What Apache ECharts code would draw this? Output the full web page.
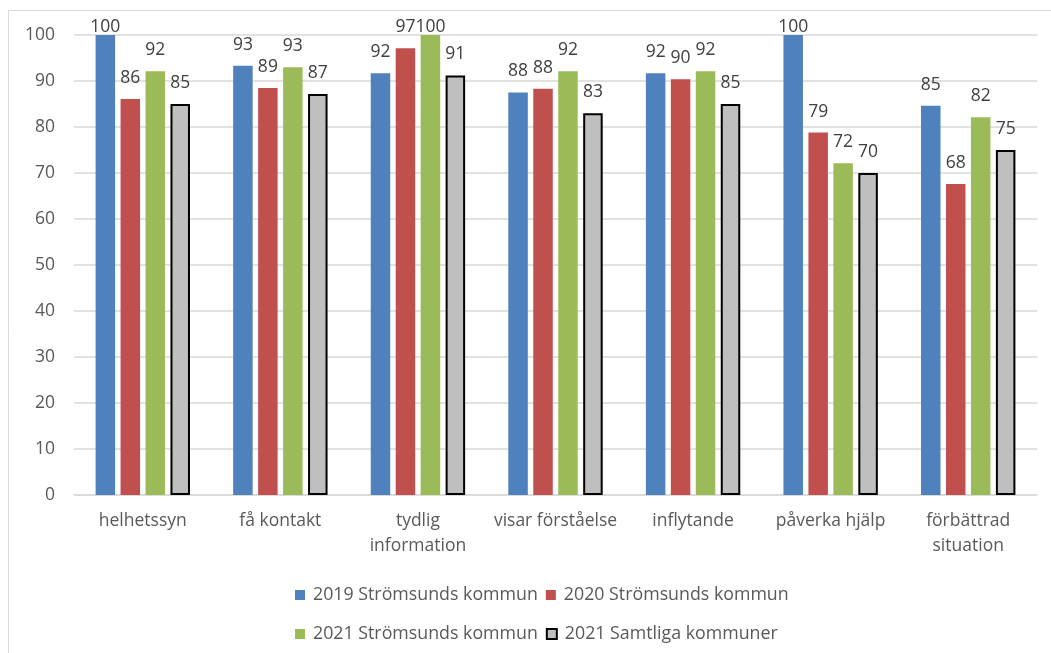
<!DOCTYPE html>
<html>
<head>
<meta charset="utf-8">
<script src="https://cdn.jsdelivr.net/npm/echarts@6/dist/echarts.min.js"></script>
<style>
  html, body { margin: 0; padding: 0; background: #fff; }
  #chart { width: 1051px; height: 653px; }
</style>
</head>
<body>
<div id="chart"></div>
<script>
const categories = ['helhetssyn', 'få kontakt', 'tydlig\ninformation', 'visar förståelse', 'inflytande', 'påverka hjälp', 'förbättrad\nsituation']
const seriesNames = ['2019 Strömsunds kommun', '2020 Strömsunds kommun', '2021 Strömsunds kommun', '2021 Samtliga kommuner']
const values2019 = [100, 93.3, 91.7, 87.5, 91.7, 100, 84.6]
const values2020 = [86.1, 88.5, 97.1, 88.3, 90.4, 78.8, 67.6]
const values2021 = [92.1, 93.0, 100, 92.1, 92.1, 72.1, 82.1]
const valuesAll = [85.0, 87.2, 91.2, 83.0, 85.0, 70.0, 75.0]
const yTicks = { min: 0, max: 100, interval: 10 }

const colors = ['#4f81bd', '#c0504d', '#9bbb59', '#bfbfbf']
const textColor = '#595959'
const fontFamily = '"Open Sans", "Noto Sans", sans-serif'

const chart = echarts.init(document.getElementById('chart'), null, { renderer: 'canvas' })

const makeSeries = (name, values, idx) => ({
  name,
  type: 'bar',
  barWidth: 19.5,
  barGap: '28%',
  itemStyle: idx === 3
    ? { color: colors[idx], borderColor: '#000', borderWidth: 2 }
    : { color: colors[idx] },
  label: {
    show: true,
    position: 'top',
    color: '#404040',
    fontSize: 17.5,
    fontFamily,
    lineHeight: 20,
    formatter: (p) => Math.round(p.value)
  },
  // labels of bars reaching the top are pushed down into the plot
  data: values.map((v) => ({ value: v, label: { distance: v >= 99 ? -2 : 11 } })),
  emphasis: { disabled: true }
})

const legendText = { color: textColor, fontSize: 17.8, fontFamily, padding: [0, 0, 0, 3] }

chart.setOption({
  animation: false,
  color: colors,
  graphic: [{
    type: 'rect',
    shape: { x: 8.5, y: 10.5, width: 1100, height: 700 },
    style: { fill: 'none', stroke: '#d9d9d9', lineWidth: 1 },
    silent: true
  }],
  grid: { left: 74, right: 14, top: 35, bottom: 158 },
  legend: [
    {
      data: seriesNames.slice(0, 2),
      left: 295,
      top: 586,
      padding: 0,
      itemWidth: 10,
      itemHeight: 10,
      itemGap: 8,
      icon: 'rect',
      textStyle: legendText
    },
    {
      data: seriesNames.slice(2),
      left: 295,
      top: 625,
      padding: 0,
      itemWidth: 10,
      itemHeight: 10,
      itemGap: 8,
      icon: 'rect',
      textStyle: legendText
    }
  ],
  xAxis: {
    type: 'category',
    data: categories,
    axisLine: { lineStyle: { color: '#d9d9d9', width: 1.5 } },
    axisTick: { show: false },
    axisLabel: {
      color: textColor,
      fontSize: 17.5,
      fontFamily,
      lineHeight: 25,
      margin: 14,
      interval: 0
    }
  },
  yAxis: {
    type: 'value',
    min: yTicks.min,
    max: yTicks.max,
    interval: yTicks.interval,
    axisLine: { show: false },
    axisTick: { show: false },
    splitLine: { lineStyle: { color: '#d9d9d9', width: 1.5 } },
    axisLabel: { color: textColor, fontSize: 17.5, fontFamily, margin: 19 }
  },
  series: [
    makeSeries(seriesNames[0], values2019, 0),
    makeSeries(seriesNames[1], values2020, 1),
    makeSeries(seriesNames[2], values2021, 2),
    makeSeries(seriesNames[3], valuesAll, 3)
  ]
})
</script>
</body>
</html>
